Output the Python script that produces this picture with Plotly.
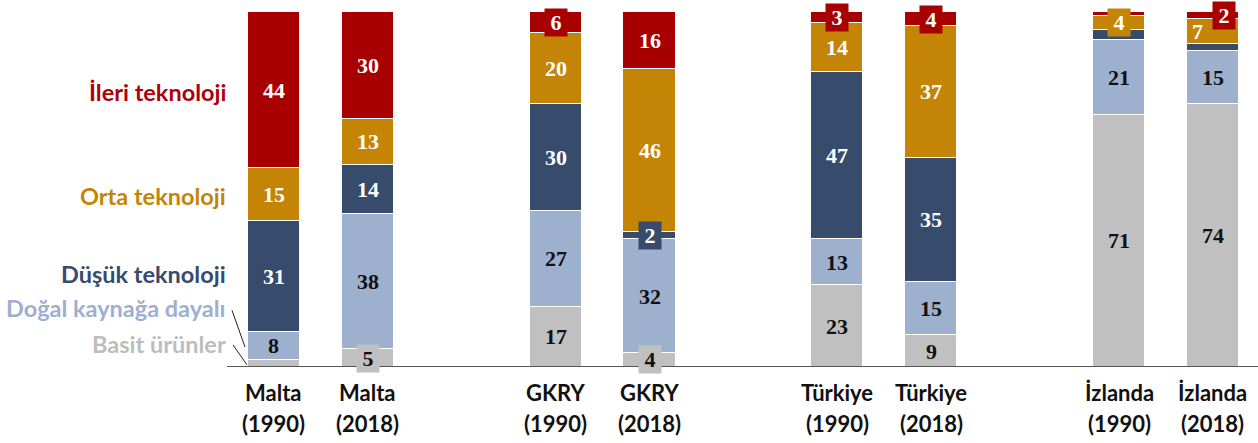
import plotly.graph_objects as go

# Bars: country / year, laid out in pairs
bar_names = ["Malta", "Malta", "GKRY", "GKRY", "Türkiye", "Türkiye", "İzlanda", "İzlanda"]
bar_years = ["(1990)", "(2018)", "(1990)", "(2018)", "(1990)", "(2018)", "(1990)", "(2018)"]
bar_pos = [0, 1, 3, 4, 6, 7, 9, 10]

# Export shares (%) by technology class, bottom to top
basit = [2, 5, 17, 4, 23, 9, 71, 74]
dogal = [8, 38, 27, 32, 13, 15, 21, 15]
dusuk = [31, 14, 30, 2, 47, 35, 3, 2]
orta = [15, 13, 20, 46, 14, 37, 4, 7]
ileri = [44, 30, 6, 16, 3, 4, 1, 2]

series_names = ["Basit ürünler", "Doğal kaynağa dayalı", "Düşük teknoloji",
                "Orta teknoloji", "İleri teknoloji"]
series_vals = [basit, dogal, dusuk, orta, ileri]
colors = ["#C0C0C0", "#9DB0CE", "#374C6C", "#C48507", "#A80000"]
legend_colors = ["#BDBDBD", "#9DB0CE", "#374C6C", "#C48507", "#B0000A"]
text_colors = ["#111111", "#111111", "#FFFFFF", "#FFFFFF", "#FFFFFF"]

# which labels are hidden, boxed, or shifted sideways: (series index, bar index)
hidden = {(0, 0), (2, 6), (2, 7), (4, 6)}
boxed = {(0, 1), (0, 3), (2, 3), (4, 2), (4, 4), (4, 5), (3, 6), (4, 7)}
xshift = {(3, 7): -15, (4, 7): 11}

# legend label vertical positions (data units)
legend_y = [6.4, 16.5, 26.3, 48.2, 77.6]

SANS = "Lato, 'Open Sans', sans-serif"
SERIF = "'Liberation Serif', 'DejaVu Serif', serif"
BAR_W = 0.555
THIN = "&#8201;"

fig = go.Figure()
for name, vals, col in zip(series_names, series_vals, colors):
    fig.add_trace(go.Bar(
        x=bar_pos, y=vals, name=name, width=BAR_W,
        marker=dict(color=col, line=dict(color="white", width=1.5)),
        hoverinfo="skip",
    ))

annotations = []
cum = [0.0] * len(bar_pos)
for si, vals in enumerate(series_vals):
    for bi, v in enumerate(vals):
        mid = cum[bi] + v / 2
        cum[bi] += v
        if (si, bi) in hidden:
            continue
        a = dict(
            x=bar_pos[bi], y=mid, xref="x", yref="y", text=f"<b>{v}</b>",
            showarrow=False, xshift=xshift.get((si, bi), 0),
            font=dict(family=SERIF, size=22, color=text_colors[si]),
        )
        if (si, bi) in boxed:
            a.update(text=f"<b>{THIN}{v}{THIN}</b>", bgcolor=colors[si], borderpad=1)
        annotations.append(a)

# category legend on the left
for name, y, col in zip(series_names, legend_y, legend_colors):
    annotations.append(dict(
        x=0, y=y, xref="paper", yref="y", xanchor="right", xshift=1,
        text=f"<b>{name}</b>", showarrow=False,
        font=dict(family=SANS, size=23.5, color=col),
    ))

# bar captions under the axis
for p, n, yr in zip(bar_pos, bar_names, bar_years):
    annotations.append(dict(x=p, y=0, xref="x", yref="y", yshift=-25,
                            text=f"<b>{n}</b>", showarrow=False,
                            font=dict(family=SANS, size=22, color="#111111")))
    annotations.append(dict(x=p, y=0, xref="x", yref="y", yshift=-56,
                            text=f"<b>{yr}</b>", showarrow=False,
                            font=dict(family=SANS, size=22, color="#111111")))

shapes = [
    # baseline
    dict(type="line", xref="paper", yref="y", x0=0, x1=1, y0=0, y1=0,
         line=dict(color="#555555", width=2)),
    # leader lines for the two thin bottom legend entries
    dict(type="line", xref="x", yref="y", x0=-0.447, y0=16.0, x1=-0.308, y1=5.6,
         line=dict(color="#222222", width=1)),
    dict(type="line", xref="x", yref="y", x0=-0.436, y0=6.2, x1=-0.287, y1=0.6,
         line=dict(color="#222222", width=1)),
]

fig.update_layout(
    width=1258, height=443,
    margin=dict(l=227, r=0, t=12, b=76),
    barmode="stack", bargap=0,
    plot_bgcolor="white", paper_bgcolor="white",
    showlegend=False,
    xaxis=dict(range=[-0.5, 10.48], visible=False, fixedrange=True),
    yaxis=dict(range=[0, 100], visible=False, fixedrange=True),
    annotations=annotations, shapes=shapes,
)

fig.write_html("out.html")
